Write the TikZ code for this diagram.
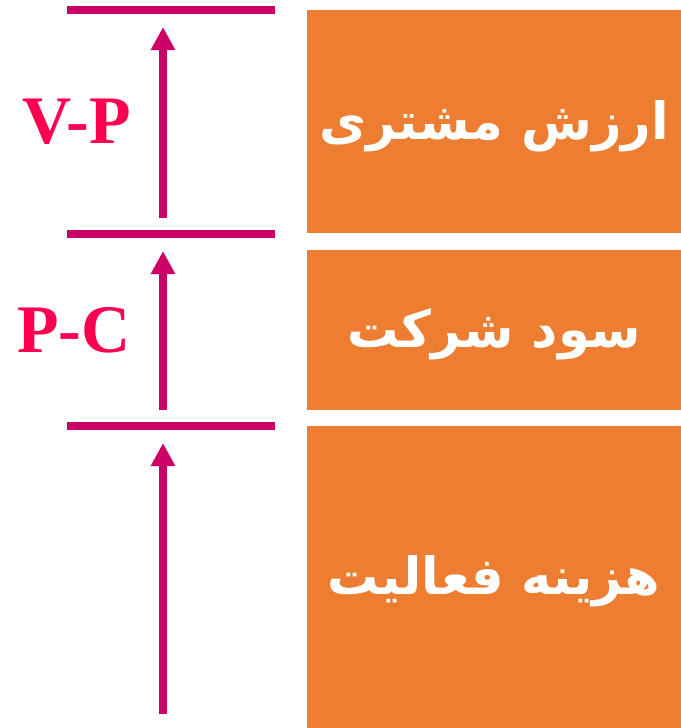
\documentclass[tikz,border=0pt]{standalone}
\usepackage{fontspec}
\usepackage{xcolor}
\usetikzlibrary{arrows.meta}
\setmainfont{Liberation Serif}
\newfontfamily\arabicfont[Script=Arabic]{DejaVu Sans}
\TeXXeTstate=1
\definecolor{barcol}{HTML}{CC0066}
\definecolor{labcol}{HTML}{FF0050}
\definecolor{boxcol}{HTML}{ED7D31}

\begin{document}
\begin{tikzpicture}[x=0.75pt,y=-0.75pt,
	bar/.style={draw=barcol,line width=6pt},
	uparrow/.style={draw=barcol,line width=6pt,-{Triangle[width=17.25pt,length=17.25pt]}},
	box/.style={fill=boxcol,inner sep=0pt,minimum width=280.5pt},
	boxtext/.style={text=white,inner sep=0pt,yshift=-3.5pt,font=\arabicfont\bfseries\fontsize{38.5}{46}\selectfont},
	lab/.style={text=labcol,font=\bfseries\fontsize{51}{60}\selectfont}]
	\useasboundingbox (0,0) rectangle (681,728);
	% Boxes
	\node (value) [box,minimum height=167.25pt] at (494,121.5) {};
	\node (profit) [box,minimum height=120pt] at (494,330) {};
	\node (cost) [box,minimum height=226.5pt] at (494,577) {};
	\node (valuetext) [boxtext] at (value.center) {\beginR ارزش مشتری\endR};
	\node (profittext) [boxtext] at (profit.center) {\beginR سود شرکت\endR};
	\node (costtext) [boxtext] at (cost.center) {\beginR هزینه فعالیت\endR};
	% Bars
	\coordinate (b1l) at (67,10);
	\coordinate (b1r) at (275,10);
	\coordinate (b2l) at (67,234);
	\coordinate (b2r) at (275,234);
	\coordinate (b3l) at (67,426);
	\coordinate (b3r) at (275,426);
	\draw[bar] (b1l) -- (b1r);
	\draw[bar] (b2l) -- (b2r);
	\draw[bar] (b3l) -- (b3r);
	% Arrows
	\coordinate (a1s) at (163,218);
	\coordinate (a1e) at (163,27);
	\coordinate (a2s) at (163,410);
	\coordinate (a2e) at (163,251);
	\coordinate (a3s) at (163,714);
	\coordinate (a3e) at (163,443);
	\draw[uparrow] (a1s) -- (a1e);
	\draw[uparrow] (a2s) -- (a2e);
	\draw[uparrow] (a3s) -- (a3e);
	% Labels
	\node (vp) [lab] at (77,122) {V-P};
	\node (pc) [lab] at (74,330) {P-C};
\end{tikzpicture}
\end{document}
